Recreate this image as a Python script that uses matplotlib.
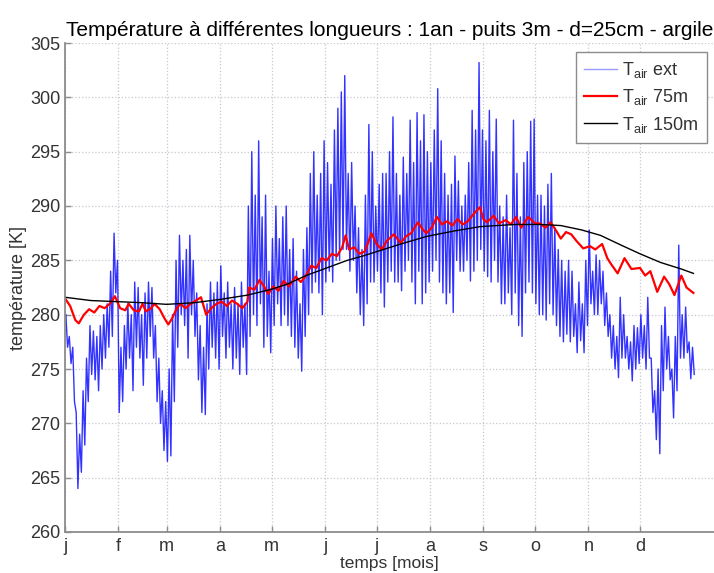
import numpy as np
import matplotlib.pyplot as plt

plt.rcParams['font.family'] = ['Liberation Sans', 'DejaVu Sans']
plt.rcParams['mathtext.fontset'] = 'custom'
plt.rcParams['mathtext.rm'] = 'Liberation Sans'
plt.rcParams['mathtext.it'] = 'Liberation Sans'

# mois : début de chaque mois (jours)
month_days = [0, 31, 59, 90, 120, 151, 181, 212, 243, 273, 304, 334]
month_labels = ['j', 'f', 'm', 'a', 'm', 'j', 'j', 'a', 's', 'o', 'n', 'd']

# T air ext : max / min lus par tranche de 2 jours (jour 0, 2, 4 ... 364)
ext_hi = [280, 278, 277, 271, 269, 273, 276, 279, 278.5, 278,
          279, 280, 281, 284, 287.5, 285, 277, 279, 281, 280,
          283, 282.5, 280, 282, 283, 282.5, 279, 276, 273, 272,
          275, 280, 285, 287.3, 285, 286, 287.3, 285, 282, 279,
          277, 281, 283, 282, 283, 284.5, 282, 283, 281, 282.5,
          281, 283, 281, 290, 295, 291, 296, 289, 291, 284,
          287, 290, 287, 289, 290, 286, 287, 284, 281, 286,
          288, 293, 295, 291, 293, 296, 294, 292, 297, 299,
          300.5, 302, 293, 294, 290, 288, 286, 291, 297.5, 295,
          290, 292, 293, 293, 295, 298.2, 293, 291, 294.5, 293,
          297.9, 294, 298.6, 296, 298.4, 295, 294, 297, 300.8, 296,
          293, 291, 292, 294.6, 292.3, 290, 291, 294, 298.8, 297,
          303.2, 297, 296, 298.8, 295, 298, 290, 289, 291, 288,
          297.9, 293, 289, 294, 295, 297.8, 298, 291, 291, 290,
          292, 293, 288, 286, 285, 284, 285, 284, 281, 283,
          281, 285, 287.8, 284, 285.5, 285, 284, 282, 280, 279,
          278, 281.6, 280, 278, 277.5, 279, 278.8, 280, 279, 281.6,
          276, 273, 275, 279, 280.7, 278, 275, 278, 286.4, 280,
          280.7, 277.5, 277]
ext_lo = [277, 275.5, 272, 264, 265.5, 268, 272, 274.5, 274, 273,
          275, 276, 277, 278, 282, 271, 272, 275, 276, 273,
          277, 276, 273.5, 276, 278, 276, 272, 270, 267.5, 266.5,
          267, 272, 277, 280, 279, 276, 280, 278, 274, 271,
          270.8, 275, 277, 276, 275, 278, 276, 277, 275, 276,
          274.5, 277, 274.5, 278, 280, 279, 281, 277, 278, 276.5,
          279, 281, 279, 280, 279, 278, 277, 276, 274.8, 278,
          280, 282, 283, 282, 280, 283, 284, 283, 285, 285,
          286, 286, 284, 285, 282, 280, 279, 281, 283, 283,
          284, 282, 280.7, 283, 284, 283, 283, 282.2, 284, 285,
          283, 281, 284, 281, 282, 283, 284, 285, 283, 282,
          281, 282, 280.2, 285, 284, 284, 285, 283.1, 284, 285,
          286, 284, 283.5, 283, 285, 283, 281, 281, 282, 280,
          282, 279, 278, 282, 283, 282, 281, 280, 280, 279.5,
          281, 280, 279, 278, 277.5, 278.2, 277.5, 278, 276.5, 277.6,
          276.5, 279, 281, 280, 280, 281, 279, 278, 276, 275,
          274.2, 276, 276, 275, 273.9, 275, 275.5, 276, 275, 276,
          271, 268.5, 267.2, 273, 275, 274, 270.5, 273, 276, 276,
          276.5, 274.1, 274.5]

# T air 75m
t75_days = [0, 3, 6, 8, 11, 14, 17, 20, 23, 26, 29, 32, 35, 37, 40, 43, 45, 47,
            50, 52, 55, 58, 60, 62, 65, 67, 70, 73, 76, 79, 82, 85, 88, 91, 94,
            97, 100, 103, 106, 107, 110, 113, 116, 118, 121, 124, 127, 130, 134,
            137, 140, 143, 146, 149, 152, 155, 158, 161, 163, 165, 168, 171, 174,
            176, 178, 181, 184, 187, 191, 195, 198, 201, 205, 208, 210, 213, 216,
            219, 222, 225, 228, 231, 234, 237, 241, 243, 245, 249, 252, 256, 259,
            262, 265, 269, 273, 276, 279, 282, 285, 288, 291, 294, 297, 301, 305,
            308, 312, 315, 317, 321, 325, 329, 334, 337, 340, 344, 348, 351, 354,
            358, 361, 365]
t75 = [281.5, 280.8, 279.5, 279.2, 280.0, 280.5, 280.2, 280.8, 280.6, 281.0,
       281.7, 280.6, 280.4, 281.0, 280.4, 280.3, 281.0, 280.3, 280.6, 281.0,
       280.5, 279.6, 279.1, 279.6, 280.6, 281.0, 280.6, 281.0, 281.3, 281.6,
       280.0, 280.6, 281.0, 281.2, 280.8, 281.3, 281.0, 280.6, 281.2, 282.5,
       282.3, 283.2, 282.5, 281.9, 282.6, 282.2, 283.1, 282.6, 283.5, 283.0,
       283.6, 284.5, 284.3, 285.2, 285.0, 285.6, 285.4, 286.2, 287.3, 286.0,
       286.2, 285.6, 285.8, 286.6, 287.5, 286.5, 286.0, 286.8, 287.4, 286.6,
       287.2, 287.5, 288.5, 287.8, 287.5, 288.0, 289.0, 288.3, 288.6, 288.2,
       288.8, 288.3, 288.6, 289.2, 289.9, 288.8, 288.5, 289.1, 288.4, 288.7,
       288.3, 289.0, 288.0, 289.0, 288.4, 288.4, 288.0, 288.5, 287.8, 287.0,
       287.6, 287.4, 286.8, 286.1, 286.3, 286.0, 286.5, 285.2, 284.7, 283.8,
       285.2, 284.2, 284.3, 283.6, 284.0, 282.1, 283.5, 282.8, 281.8, 283.6,
       282.5, 282.0]

# T air 150m
t150_days = [0, 15, 30, 45, 59, 75, 90, 106, 119, 129, 140, 152, 164, 173, 183,
             195, 210, 226, 241, 261, 276, 288, 300, 311, 323, 334, 346, 358, 365]
t150 = [281.6, 281.3, 281.2, 281.1, 280.95, 281.1, 281.4, 281.8, 282.3, 282.8,
        283.6, 284.3, 285.0, 285.4, 285.9, 286.5, 287.2, 287.7, 288.1, 288.3,
        288.3, 288.2, 287.8, 287.3, 286.4, 285.6, 284.8, 284.2, 283.8]

W, H = 714, 573
fig = plt.figure(figsize=(W / 100, H / 100), dpi=100)
ax = fig.add_axes([65 / W, 41 / H, (W - 65) / W, 489 / H])

# zigzag max/min pour la courbe extérieure
d0 = np.arange(len(ext_hi)) * 2
ext_t = np.column_stack([d0 + 0.5, d0 + 1.5]).ravel()
ext_v = np.column_stack([ext_hi, ext_lo]).ravel()

ax.plot(ext_t, ext_v, color=(0.0, 0.0, 1.0), lw=1.0, alpha=0.8,
        label=r'T$_{\rm air}$ ext')
ax.plot(t75_days, t75, color='red', lw=1.6, label=r'T$_{\rm air}$ 75m')
ax.plot(t150_days, t150, color='black', lw=1.0, label=r'T$_{\rm air}$ 150m')

ax.set_xlim(0, (W - 65) / 1.7216)
ax.set_ylim(260, 305)
ax.set_xticks(month_days)
ax.set_xticklabels(month_labels)
ax.set_yticks(np.arange(260, 306, 5))

grey = (0.55, 0.55, 0.55)
for s in ['top', 'right']:
    ax.spines[s].set_visible(False)
for s in ['left', 'bottom']:
    ax.spines[s].set_color(grey)
    ax.spines[s].set_linewidth(1.3)
ax.tick_params(direction='in', length=4, width=1.0, color=grey,
               labelsize=13, labelcolor='#333333')
ax.tick_params(axis='x', pad=4)
ax.grid(True, linestyle=':', color=(0.78, 0.78, 0.82), linewidth=0.9)
ax.set_axisbelow(True)

ax.set_title(u'Température à différentes longueurs : 1an - puits 3m - d=25cm - argile',
             fontsize=15, pad=5)
ax.set_xlabel('temps [mois]', fontsize=12.5, color='#333333', labelpad=1)
ax.set_ylabel(u'température [K]', fontsize=13, color='#333333', labelpad=2)

leg = ax.legend(loc='upper right', bbox_to_anchor=((707 - 65) / (W - 65), 1.0 - 9 / 489),
                borderaxespad=0.0,
                fontsize=13, handlelength=1.8, handletextpad=0.3, borderpad=0.45,
                labelspacing=0.4, fancybox=False, framealpha=1.0)
leg.get_frame().set_edgecolor(grey)
leg.get_frame().set_linewidth(1.0)
for txt in leg.get_texts():
    txt.set_color('#333333')
leg.get_lines()[0].set_alpha(0.4)

fig.savefig('out.png', dpi=100)
